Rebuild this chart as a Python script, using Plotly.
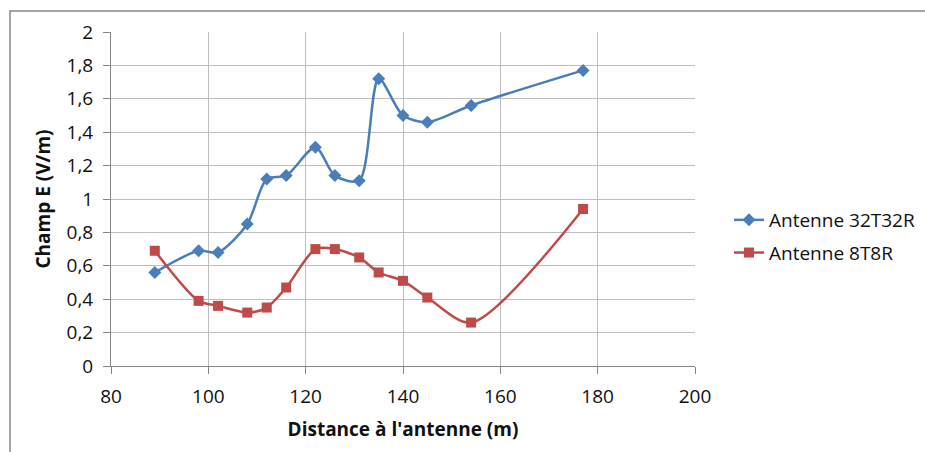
import plotly.graph_objects as go

# Measured field strength versus distance to the antenna
distance_m = [89, 98, 102, 108, 112, 116, 122, 126, 131, 135, 140, 145, 154, 177]
champ_32t32r = [0.56, 0.69, 0.68, 0.85, 1.12, 1.14, 1.31, 1.14, 1.11, 1.72, 1.50, 1.46, 1.56, 1.77]
champ_8t8r = [0.69, 0.39, 0.36, 0.32, 0.35, 0.47, 0.70, 0.70, 0.65, 0.56, 0.51, 0.41, 0.26, 0.94]

series_names = ["Antenne 32T32R", "Antenne 8T8R"]
x_ticks = [80, 100, 120, 140, 160, 180, 200]
y_ticks = [0, 0.2, 0.4, 0.6, 0.8, 1.0, 1.2, 1.4, 1.6, 1.8, 2.0]
y_tick_labels = ["0", "0,2", "0,4", "0,6", "0,8", "1", "1,2", "1,4", "1,6", "1,8", "2"]

BLUE = "#4A7EBB"
RED = "#BE4B48"
FONT = "Open Sans"

W, H = 925, 452
L, R, T, B = 111, 230, 32, 86
pw, ph = W - L - R, H - T - B

fig = go.Figure()
fig.add_trace(go.Scatter(
    x=distance_m, y=champ_32t32r, name=series_names[0], legendgroup="a",
    mode="lines+markers", line=dict(color=BLUE, width=2.5, shape="spline", smoothing=0.8),
    marker=dict(symbol="diamond", size=10, color=BLUE),
))
fig.add_trace(go.Scatter(
    x=distance_m, y=champ_8t8r, name=series_names[1], legendgroup="b",
    mode="lines+markers", line=dict(color=RED, width=2.5, shape="spline", smoothing=0.8),
    marker=dict(symbol="square", size=10, color=RED),
))

axis_common = dict(
    showgrid=True, gridcolor="#BEBEBE", gridwidth=1,
    showline=True, linecolor="#868686", linewidth=1,
    ticks="outside", ticklen=7, tickcolor="#868686",
    tickfont=dict(family=FONT, size=19, color="#111111"),
    ticklabelstandoff=6,
    zeroline=False,
)

# Chart frame around the whole figure
def px_to_paper_x(px):
    return (px - L) / pw

def px_to_paper_y(py):
    return (H - B - py) / ph

fig.add_shape(type="rect", xref="paper", yref="paper",
              x0=px_to_paper_x(10), x1=px_to_paper_x(1000),
              y0=px_to_paper_y(500), y1=px_to_paper_y(11),
              line=dict(color="#868686", width=1.5), fillcolor="rgba(0,0,0,0)", layer="below")

fig.update_layout(
    width=W, height=H,
    margin=dict(l=L, r=R, t=T, b=B, pad=0, autoexpand=False),
    paper_bgcolor="white", plot_bgcolor="white",
    font=dict(family=FONT, color="#111111"),
    xaxis=dict(range=[80, 200], tickvals=x_ticks,
               title=dict(text="<b>Distance à l'antenne (m)</b>", font=dict(size=19), standoff=14),
               **axis_common),
    yaxis=dict(range=[0, 2], tickvals=y_ticks, ticktext=y_tick_labels,
               title=dict(text="<b>Champ E (V/m)</b>", font=dict(size=19), standoff=10),
               **axis_common),
    legend=dict(x=px_to_paper_x(729), y=px_to_paper_y(201), xanchor="left", yanchor="top",
                font=dict(family=FONT, size=19), tracegroupgap=5,
                bgcolor="rgba(0,0,0,0)", itemwidth=30),
    showlegend=True,
)

fig.write_html("out.html")
